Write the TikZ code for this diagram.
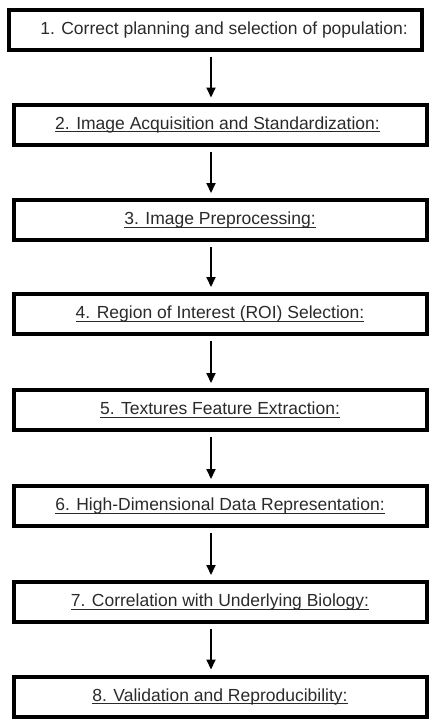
\documentclass[tikz,border=0pt]{standalone}
\usepackage{fontspec}
\setmainfont{Liberation Sans}
\usetikzlibrary{arrows.meta}
\definecolor{txt}{HTML}{2A2A2A}
\newcommand{\ulx}[1]{\setbox0\hbox{#1}\rlap{\rule[-3pt]{\wd0}{0.8pt}}\box0}
\tikzset{
  stepbox/.style={draw=black, line width=4pt, minimum width=413pt, minimum height=40pt, inner sep=0pt, font=\fontsize{17.5}{20}\selectfont, text=txt},
  flow/.style={line width=2pt, -{Triangle[length=10pt,width=9pt]}, shorten >=5pt, shorten <=5pt}
}
\begin{document}
\begin{tikzpicture}[x=1pt,y=1pt]
\useasboundingbox (0,0) rectangle (434,-724);
\node[stepbox] (s1) at (215.5,-30) {\hspace*{17pt}1. Correct planning and selection of population:};
\node[stepbox] (s2) at (220,-124.5) {\ulx{2. Image Acquisition and Standardization:}\hspace*{5pt}};
\node[stepbox] (s3) at (220,-220) {\ulx{3. Image Preprocessing:}};
\node[stepbox] (s4) at (220,-314) {\ulx{4. Region of Interest (ROI) Selection:}};
\node[stepbox] (s5) at (220,-410) {\ulx{5. Textures Feature Extraction:}};
\node[stepbox] (s6) at (220,-506) {\ulx{6. High-Dimensional Data Representation:}};
\node[stepbox] (s7) at (220,-602) {\ulx{7. Correlation with Underlying Biology:}};
\node[stepbox] (s8) at (220,-696.5) {\ulx{8. Validation and Reproducibility:}};
\foreach \a/\b in {s1/s2,s2/s3,s3/s4,s4/s5,s5/s6,s6/s7,s7/s8}{
  \draw[flow] (\a.south -| 211,0) -- (\b.north -| 211,0);
}
\end{tikzpicture}
\end{document}
